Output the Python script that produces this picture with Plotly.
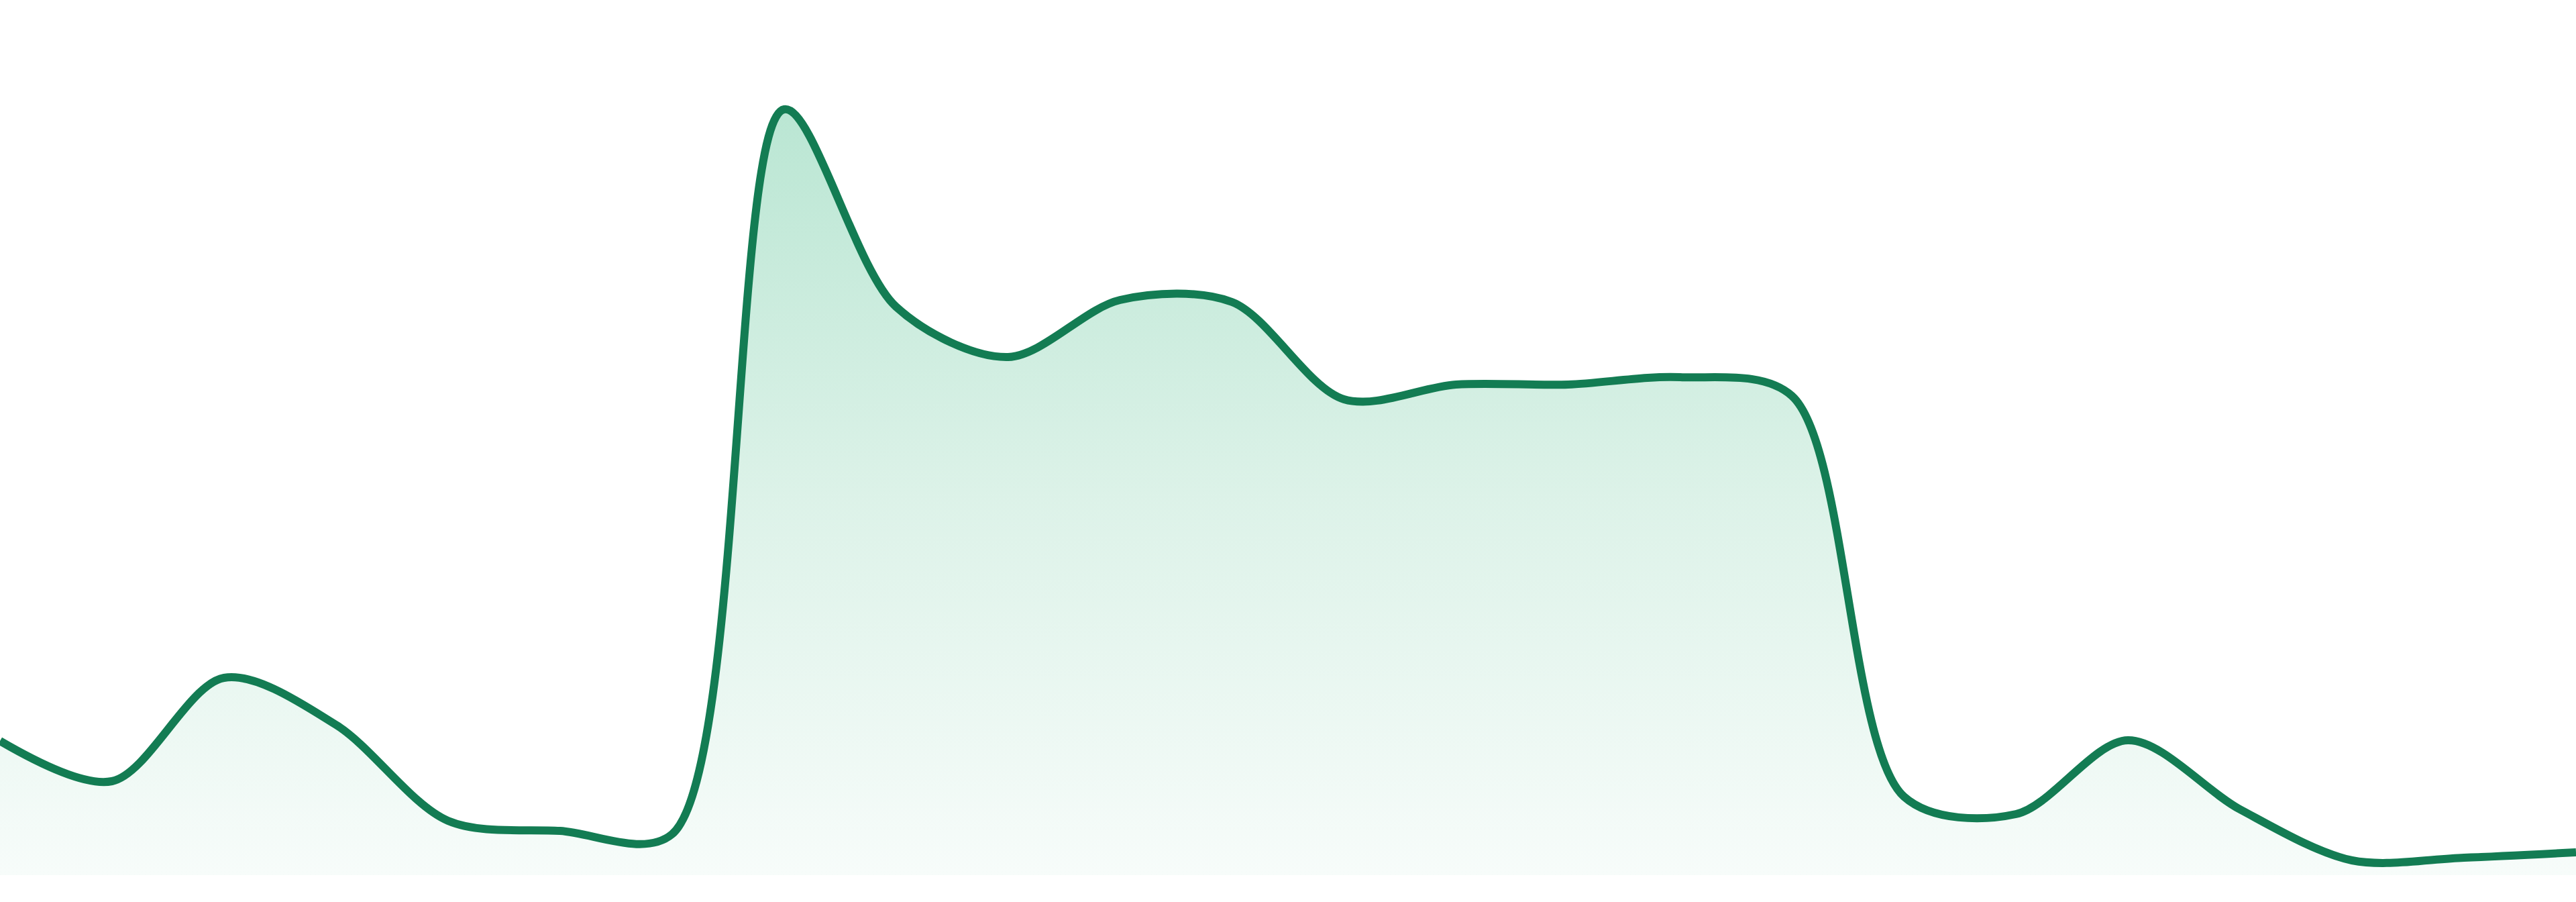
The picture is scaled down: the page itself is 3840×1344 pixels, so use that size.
import plotly.graph_objects as go

# Data (arbitrary units)
x_index = list(range(24))
values = [20.0, 14.0, 29.4, 22.4, 8.1, 6.6, 6.1, 114.1, 84.7, 77.2, 85.7, 85.4,
          70.9, 73.1, 73.1, 74.2, 71.4, 11.7, 9.1, 20.1, 9.8, 2.2, 2.6, 3.4]

LINE_COLOR = "#137c53"

fig = go.Figure()
fig.add_trace(go.Scatter(
    x=x_index,
    y=values,
    mode="lines",
    line=dict(color=LINE_COLOR, width=12, shape="spline", smoothing=0.9),
    fill="tozeroy",
    fillgradient=dict(
        type="vertical",
        colorscale=[[0.0, "rgba(247,252,250,1)"],
                    [0.5, "rgba(220,242,232,1)"],
                    [1.0, "rgba(186,230,211,1)"]],
        start=0,
        stop=max(values),
    ),
    hoverinfo="skip",
    showlegend=False,
))

fig.update_layout(
    width=3840,
    height=1344,
    margin=dict(l=0, r=0, t=0, b=40),
    paper_bgcolor="white",
    plot_bgcolor="white",
    xaxis=dict(range=[0, 23], visible=False, fixedrange=True),
    yaxis=dict(range=[0, 130.4], visible=False, fixedrange=True),
)

fig.write_html(
    "out.html",
    config={"displayModeBar": False},
    post_script="document.body.style.margin='0';document.body.style.overflow='hidden';",
)
